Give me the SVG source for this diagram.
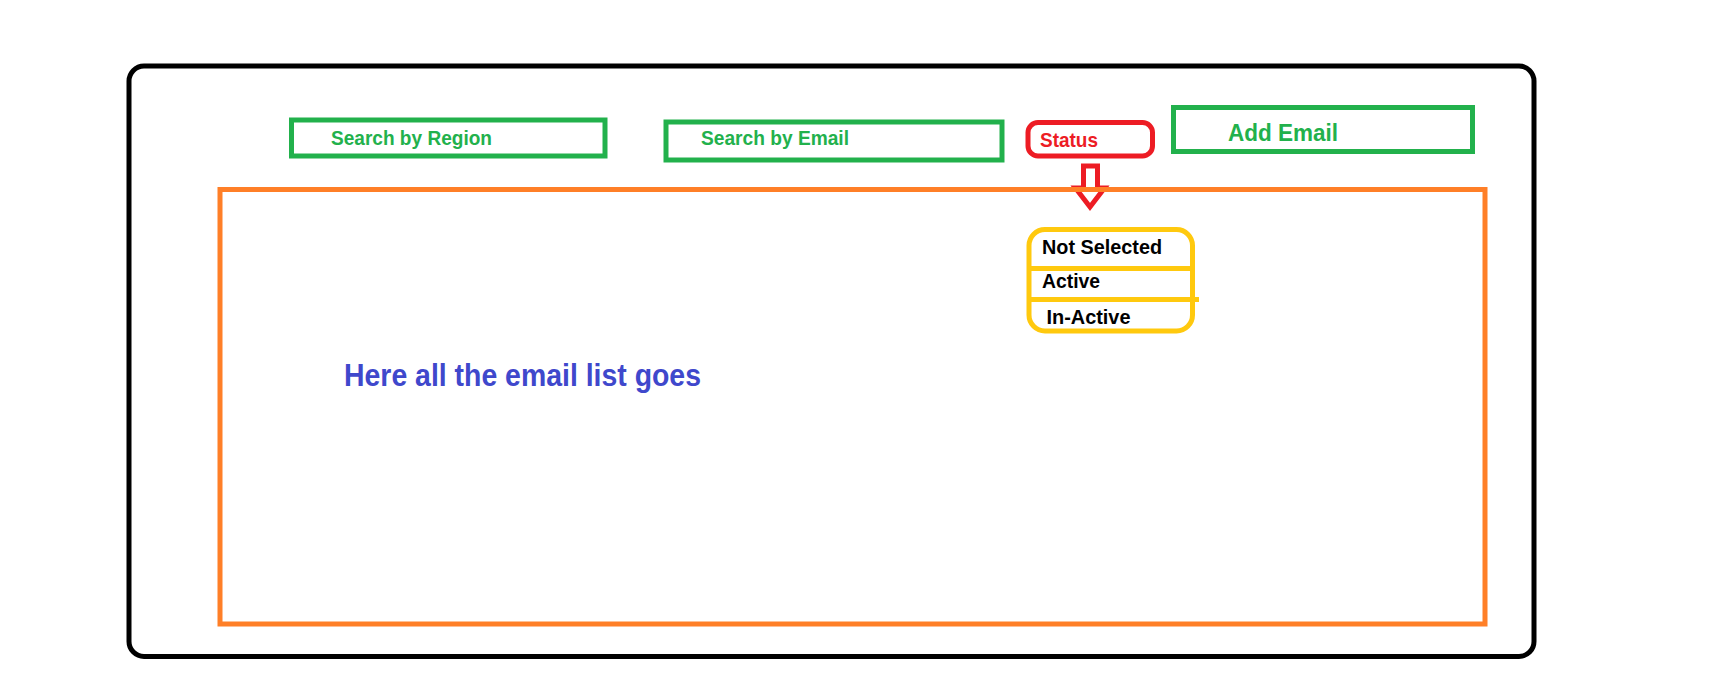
<svg xmlns="http://www.w3.org/2000/svg" width="1721" height="687" viewBox="0 0 1721 687">
<style>
  .lbl { font-family: "Liberation Sans", Arial, sans-serif; font-weight: bold; }
  .green { fill: none; stroke: #22B14C; stroke-width: 5; }
  .gtxt { fill: #22B14C; font-size: 21px; }
  .dtxt { fill: #000000; font-size: 21px; }
  .yel { fill: none; stroke: #FFC90E; stroke-width: 5; }
</style>
<rect width="1721" height="687" fill="#FFFFFF"/>
<g id="frame">
  <rect x="129" y="66" width="1405" height="590.5" rx="15" ry="15" fill="none" stroke="#000000" stroke-width="5"/>
</g>
<g id="connectors">
  <polygon points="1083.5,166 1097.5,166 1097.5,188 1104.5,188 1090,207 1075.5,188 1083.5,188" fill="none" stroke="#ED1C24" stroke-width="5" stroke-linejoin="miter"/>
</g>
<g id="email-list">
  <rect x="220" y="189.5" width="1265" height="434.5" fill="none" stroke="#FF7F27" stroke-width="5"/>
  <text class="lbl" x="344" y="385.5" font-size="31" fill="#3F48CC" textLength="357" lengthAdjust="spacingAndGlyphs">Here all the email list goes</text>
</g>
<g id="search-region">
  <rect class="green" x="291.5" y="120" width="313.5" height="36"/>
  <text class="lbl gtxt" x="331" y="145" textLength="161" lengthAdjust="spacingAndGlyphs">Search by Region</text>
</g>
<g id="search-email">
  <rect class="green" x="666" y="122" width="336" height="38"/>
  <text class="lbl gtxt" x="701" y="145" textLength="148" lengthAdjust="spacingAndGlyphs">Search by Email</text>
</g>
<g id="status">
  <rect x="1028" y="122.5" width="124.5" height="33.5" rx="10" ry="10" fill="none" stroke="#ED1C24" stroke-width="5"/>
  <text class="lbl" x="1040" y="146.5" font-size="21" fill="#ED1C24" textLength="58" lengthAdjust="spacingAndGlyphs">Status</text>
</g>
<g id="add-email">
  <rect class="green" x="1173.5" y="107.5" width="299" height="44"/>
  <text class="lbl" x="1228" y="141" font-size="24" fill="#22B14C" textLength="110" lengthAdjust="spacingAndGlyphs">Add Email</text>
</g>
<g id="status-dropdown">
  <rect class="yel" x="1029" y="229.5" width="163.5" height="101.5" rx="16" ry="16"/>
  <line class="yel" x1="1029" y1="268.5" x2="1192.5" y2="268.5"/>
  <line class="yel" x1="1029" y1="299.5" x2="1199" y2="299.5"/>
  <text class="lbl dtxt" x="1042" y="253.5" textLength="120" lengthAdjust="spacingAndGlyphs">Not Selected</text>
  <text class="lbl dtxt" x="1042" y="288" textLength="58" lengthAdjust="spacingAndGlyphs">Active</text>
  <text class="lbl dtxt" x="1046.5" y="324" textLength="84" lengthAdjust="spacingAndGlyphs">In-Active</text>
</g>
</svg>
